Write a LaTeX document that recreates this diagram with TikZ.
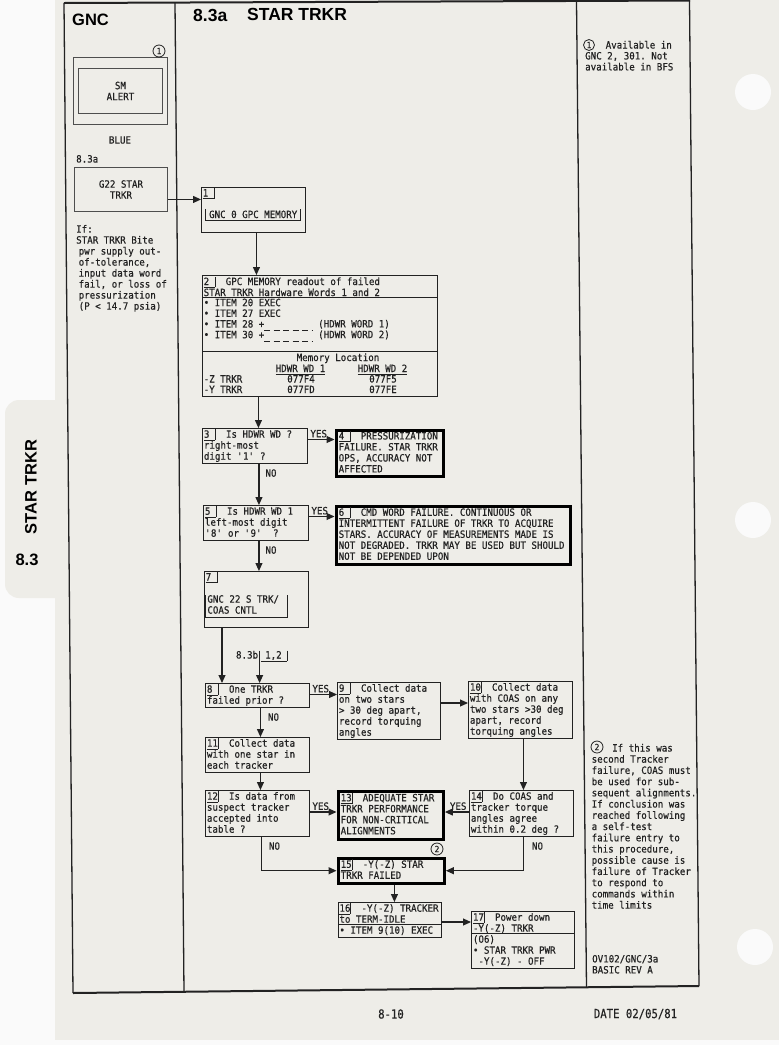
\documentclass[tikz,border=0pt]{standalone}
\usepackage{fontspec}
\usetikzlibrary{arrows.meta,calc}
\newfontfamily\monof[FakeStretch=0.915, FakeBold=0.5, WordSpace={1,0,0}]{DejaVu Sans Mono}
\newfontfamily\footf[FakeStretch=0.85, FakeBold=0.5, WordSpace={1,0,0}]{DejaVu Sans Mono}
\newfontfamily\hsans{Liberation Sans}
\frenchspacing
\newlength\mycw
\newcommand\mf{\monof\fontsize{10}{11}\selectfont}
\newcommand\nb[1]{\settowidth\mycw{0}\rlap{\vrule height -1.8pt depth 2.4pt width 2\mycw}\makebox[2\mycw][l]{#1}\rlap{\vrule height 8.5pt depth 2.4pt width .6pt}\hspace{\mycw}}
\newcommand\fl[2]{\makebox[#1][l]{#2}}
\newcommand\q{\textquotesingle}
\newcommand\ind{\hspace*{2.5pt}}
\definecolor{ink}{HTML}{222222}
\definecolor{paper}{HTML}{EEEDE8}
\begin{document}
\begin{tikzpicture}[x=1pt,y=-1pt,
  every node/.style={inner sep=0pt, text=ink},
  ptxt/.style={font=\mf, align=left, anchor=north west, execute at begin node=\strut},
  thinbox/.style={draw=ink, line width=.9pt, anchor=north west, font=\mf, align=left, inner xsep=1.5pt, inner ysep=.75pt, execute at begin node=\strut, execute at end node=\strut},
  thickbox/.style={thinbox, draw=black, line width=3.4pt, inner xsep=2.5pt},
  plainbox/.style={draw=ink, line width=.9pt, anchor=north west},
  arr/.style={draw=ink, line width=1.1pt, -{Triangle[length=8pt,width=7pt]}},
  rl/.style={draw=ink, line width=.9pt},
  lab/.style={font=\mf},
  yesr/.style={font=\mf, anchor=south west, shift={(2,-1.5)}},
  yesl/.style={font=\mf, anchor=south east, shift={(-2,-1.5)}},
  nolab/.style={font=\mf, anchor=north west, shift={(7,4.5)}},
  circmark/.style={circle, draw=ink, line width=.8pt, minimum size=12pt, font=\monof\fontsize{8.5}{9}\selectfont},
  framel/.style={draw=ink, line width=1.3pt},
  head/.style={font=\hsans\bfseries\fontsize{16.5}{18}\selectfont, text=black},
]
\useasboundingbox (0,0) rectangle (779,1045);
% paper
\fill[white!98!black] (0,0) rectangle (779,1045);
\fill[paper] (55,0) rectangle (779,1040);
\fill[paper, rounded corners=14pt] (70,400) -- (5,400) -- (5,598) -- (70,598) -- cycle;
\fill[white!98!black] (753,92) circle[radius=18pt];
\fill[white!98!black] (753,520) circle[radius=18pt];
\fill[white!98!black] (755,947) circle[radius=18pt];
% frame
\draw[draw=ink, line width=2pt] (64,3) -- (690,0.5);
\draw[draw=ink, line width=2pt] (73,993) -- (699,986);
\draw[framel] (64,3) -- (73,993);
\draw[framel] (175,2.5) -- (184,992);
\draw[framel] (576.5,1) -- (586.5,987.5);
\draw[framel] (689.5,0.5) -- (699,986);
% headers
\node[head, anchor=base west] (hgnc) at (72,25) {GNC};
\node[head, anchor=base west, font=\hsans\bfseries\fontsize{17.5}{19}\selectfont] (h83) at (193,21) {8.3a};
\node[head, anchor=base west, font=\hsans\bfseries\fontsize{17.5}{19}\selectfont] (hst) at (247,20.5) {STAR TRKR};
% tab
\node[head, rotate=90] (tabt) at (31,487) {STAR TRKR};
\node[head] (tabn) at (27,560) {8.3};
% left column
\node[plainbox, draw=ink!80, minimum width=94pt, minimum height=67pt] (smo) at (73,57) {};
\node[plainbox, draw=ink!80, minimum width=84pt, minimum height=45pt, font=\mf, align=center] (sm) at (78,68) {SM\\ALERT};
\node[circmark] (c1) at (159,51) {1};
\node[lab] (blue) at (120,140) {BLUE};
\node[lab, anchor=base west] (l83a) at (76,162.5) {8.3a};
\node[plainbox, draw=ink!80, minimum width=93pt, minimum height=44pt, font=\mf, align=center] (g22) at (74,167) {G22 STAR\\TRKR};
\node[ptxt] (iftxt) at (76,224.8) {If:\\STAR TRKR Bite\\\ind pwr supply out-\\\ind of-tolerance,\\\ind input data word\\\ind fail, or loss of\\\ind pressurization\\\ind (P < 14.7 psia)};
% box 1
\node[plainbox, minimum width=104pt, minimum height=45pt] (b1) at (201,187) {};
\node[ptxt] (b1n) at (202.5,187.8) {\nb{1}};
\node[font=\mf, minimum width=95pt, text height=9pt, text depth=2.7pt, anchor=base] (b1in) at (253.2,218) {GNC 0 GPC MEMORY};
\draw[rl] (b1in.north west) -- (b1in.south west) -- (b1in.south east) -- (b1in.north east);
% box 2
\node[plainbox, minimum width=235pt, minimum height=121pt] (b2) at (202,275) {};
\node[ptxt] (b2h) at (203.5,276.3) {\nb{2} GPC MEMORY readout of failed\\STAR TRKR Hardware Words 1 and 2};
\draw[rl] ($(b2.north west)+(0,22.5)$) -- ($(b2.north east)+(0,22.5)$);
\node[ptxt, font=\monof\fontsize{10}{10.7}\selectfont] (b2i) at (203.5,298.5) {• ITEM 20 EXEC\\• ITEM 27 EXEC\\• ITEM 28 +\\• ITEM 30 +};
\draw[draw=ink, line width=.8pt, dash pattern=on 6pt off 3.5pt] (264,330.5) -- (313,330.5);
\draw[draw=ink, line width=.8pt, dash pattern=on 6pt off 3.5pt] (264,341) -- (313,341);
\node[lab, anchor=base west] (w1) at (318,327.4) {(HDWR WORD 1)};
\node[lab, anchor=base west] (w2) at (318,338.1) {(HDWR WORD 2)};
\draw[rl] ($(b2.north west)+(0,76)$) -- ($(b2.north east)+(0,76)$);
\node[lab, anchor=base] (ml) at (338,361) {Memory Location};
\node[lab, anchor=base] (hw1) at (300.5,372) {HDWR WD 1};
\node[lab, anchor=base] (hw2) at (382.5,372) {HDWR WD 2};
\draw[draw=ink, line width=.6pt] ($(hw1.base west)+(0,2.4)$) -- ($(hw1.base east)+(0,2.4)$);
\draw[draw=ink, line width=.6pt] ($(hw2.base west)+(0,2.4)$) -- ($(hw2.base east)+(0,2.4)$);
\node[lab, anchor=base west] (zt) at (203.5,382.5) {-Z TRKR};
\node[lab, anchor=base west] (yt) at (203.5,393) {-Y TRKR};
\node[lab, anchor=base] (z1) at (301,382.5) {077F4};
\node[lab, anchor=base] (z2) at (383,382.5) {077F5};
\node[lab, anchor=base] (y1) at (301,393) {077FD};
\node[lab, anchor=base] (y2) at (383,393) {077FE};
% boxes 3-6
\node[thinbox] (b3) at (202,428) {\fl{102pt}{\nb{3} Is HDWR WD ?}\\right-most\\digit \q1\q\ ?};
\node[thickbox] (b4) at (334.5,428.5) {\fl{102pt}{\nb{4} PRESSURIZATION}\\FAILURE. STAR TRKR\\OPS, ACCURACY NOT\\AFFECTED};
\node[thinbox] (b5) at (203,505) {\fl{102pt}{\nb{5} Is HDWR WD 1}\\left-most digit\\\q8\q\ or \q9\q\ \ ?};
\node[thickbox, minimum height=58pt] (b6) at (334.5,504.5) {\fl{229pt}{\nb{6} CMD WORD FAILURE. CONTINUOUS OR}\\INTERMITTENT FAILURE OF TRKR TO ACQUIRE\\STARS. ACCURACY OF MEASUREMENTS MADE IS\\NOT DEGRADED. TRKR MAY BE USED BUT SHOULD\\NOT BE DEPENDED UPON};
% box 7
\node[plainbox, minimum width=104pt, minimum height=56pt] (b7) at (204,571) {};
\node[ptxt] (b7n) at (205.5,571.8) {\nb{7}};
\node[ptxt, inner xsep=1.5pt, execute at end node=\strut] (b7in) at (205.7,595) {\fl{78pt}{GNC 22 S TRK/}\\COAS CNTL};
\draw[rl] (b7in.north west) -- (b7in.south west) -- (b7in.south east) -- (b7in.north east);
% 8.3b entry
\node[lab, anchor=base east] (ref83) at (258.3,658.5) {8.3b};
\node[lab, anchor=base west] (ref12) at (265,658.5) {1,2};
\draw[draw=ink, line width=.6pt] (261,660.8) -- (287,660.8);
\draw[rl] (287,650.5) -- (287,661);
\coordinate (r83) at (259.6,650.5);
% boxes 8-17
\node[thinbox] (b8) at (205,683) {\fl{101pt}{\nb{8} One TRKR}\\failed prior ?};
\node[thinbox] (b9) at (337,682) {\fl{100pt}{\nb{9} Collect data}\\on two stars\\> 30 deg apart,\\record torquing\\angles};
\node[thinbox] (b10) at (468,681) {\fl{101pt}{\nb{10} Collect data}\\with COAS on any\\two stars >30 deg\\apart, record\\torquing angles};
\node[thinbox] (b11) at (205,737) {\fl{101pt}{\nb{11} Collect data}\\with one star in\\each tracker};
\node[thinbox] (b12) at (205,790) {\fl{101pt}{\nb{12} Is data from}\\suspect tracker\\accepted into\\table ?};
\node[thickbox, minimum height=48pt] (b13) at (336.5,789.5) {\fl{100pt}{\nb{13} ADEQUATE STAR}\\TRKR PERFORMANCE\\FOR NON-CRITICAL\\ALIGNMENTS};
\node[thinbox] (b14) at (469,790) {\fl{101pt}{\nb{14} Do COAS and}\\tracker torque\\angles agree\\within 0.2 deg ?};
\node[circmark] (c2) at (437,849) {2};
\node[thickbox, minimum height=25pt] (b15) at (336.5,856.5) {\fl{101pt}{\nb{15} -Y(-Z) STAR}\\TRKR FAILED};
\node[thinbox, inner xsep=1pt] (b16) at (338,902) {\fl{101pt}{\nb{16} -Y(-Z) TRACKER}\\to TERM-IDLE\\• ITEM 9(10) EXEC};
\draw[rl] ($(b16.north west)+(0,22)$) -- ($(b16.north east)+(0,22)$);
\node[thinbox] (b17) at (471,911) {\fl{100pt}{\nb{17} Power down}\\-Y(-Z) TRKR\\(O6)\\• STAR TRKR PWR\\\hspace*{5.5pt}-Y(-Z) - OFF};
\draw[rl] ($(b17.north west)+(0,22)$) -- ($(b17.north east)+(0,22)$);
% connectors
\coordinate (p1) at ($(g22.east)+(0,10)$);
\draw[arr] (p1) -- (p1 -| b1.west);
\coordinate (p2) at ($(b1.south)+(3,0)$);
\draw[arr] (p2) -- (p2 |- b2.north);
\coordinate (p3) at ($(b3.north)+(3.5,0)$);
\draw[arr] (p3 |- b2.south) -- (p3);
\coordinate (p4) at ($(b3.north east)+(0,11.5)$);
\draw[arr] (p4) node[yesr]{YES} -- (p4 -| b4.west);
\coordinate (p5) at ($(b5.north)+(3,0)$);
\draw[arr] (p5 |- b3.south) node[nolab, shift={(-1,0)}]{NO} -- (p5);
\coordinate (p6) at ($(b5.north east)+(0,11.5)$);
\draw[arr] (p6) node[yesr]{YES} -- (p6 -| b6.west);
\coordinate (p7) at ($(b7.north)+(2.5,0)$);
\draw[arr] (p7 |- b5.south) node[nolab, shift={(-1,0)}]{NO} -- (p7);
\coordinate (p8) at ($(b7.south west)+(18,0)$);
\draw[arr] (p8) -- (p8 |- b8.north);
\draw[arr] (r83) -- (r83 |- b8.north);
\coordinate (p9) at ($(b8.north east)+(0,11.5)$);
\draw[arr] (p9) node[yesr]{YES} -- (p9 -| b9.west);
\coordinate (p10) at ($(b9.north east)+(0,21)$);
\draw[arr] (p10) -- (p10 -| b10.west);
\coordinate (p11) at ($(b11.north)+(3,0)$);
\draw[arr] (p11 |- b8.south) node[nolab]{NO} -- (p11);
\coordinate (p12) at ($(b12.north)+(3,0)$);
\draw[arr] (p12 |- b11.south) -- (p12);
\coordinate (p13) at ($(b14.north)+(2,0)$);
\draw[arr] (p13 |- b10.south) -- (p13);
\coordinate (p14) at ($(b12.north east)+(0,22)$);
\draw[arr] (p14) node[yesr]{YES} -- (p14 -| b13.west);
\coordinate (p15) at ($(b14.north west)+(0,22)$);
\draw[arr] (p15) node[yesl]{YES} -- (p15 -| b13.east);
\coordinate (p16) at ($(b12.south)+(4,0)$);
\draw[arr] (p16) node[nolab]{NO} -- (p16 |- b15.west) -- (b15.west);
\coordinate (p17) at ($(b14.south)+(2,0)$);
\draw[arr] (p17) node[nolab, shift={(1,0)}]{NO} -- (p17 |- b15.east) -- (b15.east);
\coordinate (p18) at ($(b16.north)+(4.5,0)$);
\draw[arr] (p18 |- b15.south) -- (p18);
\coordinate (p19) at ($(b16.north east)+(0,20)$);
\draw[arr] (p19) -- (p19 -| b17.west);
% notes
\node[circmark, minimum size=11pt] (n1c) at (589,45) {1};
\node[lab, anchor=base west] (n1a) at (605.5,48.5) {Available in};
\node[ptxt] (n1b) at (585,51.8) {GNC 2, 301. Not\\available in BFS};
\node[circmark] (n2c) at (597,747) {2};
\node[lab, anchor=base west] (n2a) at (612,751.5) {If this was};
\node[ptxt, font=\monof\fontsize{10}{11.23}\selectfont] (n2b) at (591.5,754.85) {second Tracker\\failure, COAS must\\be used for sub-\\sequent alignments.\\If conclusion was\\reached following\\a self-test\\failure entry to\\this procedure,\\possible cause is\\failure of Tracker\\to respond to\\commands within\\time limits};
\node[ptxt] (rev) at (592,954.8) {OV102/GNC/3a\\BASIC REV A};
% footer
\node[font=\footf\fontsize{12.5}{14}\selectfont] (pg) at (391,1014) {8-10};
\node[font=\footf\fontsize{12.5}{14}\selectfont] (dt) at (635.5,1014) {DATE 02/05/81};
\end{tikzpicture}
\end{document}
